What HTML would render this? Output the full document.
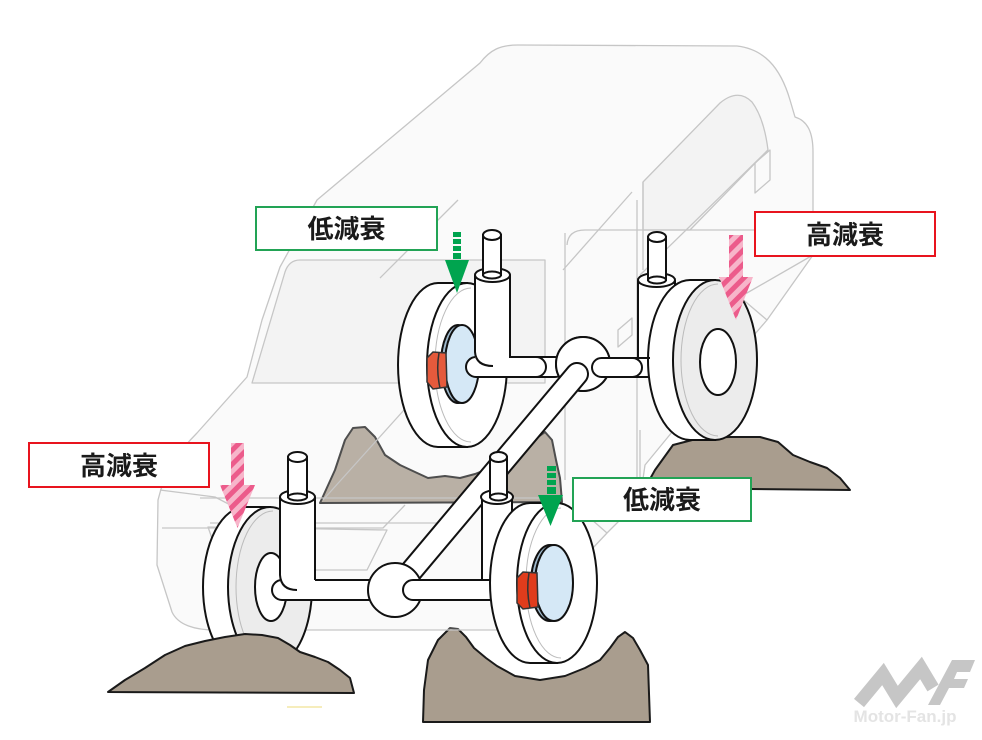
<!DOCTYPE html>
<html><head><meta charset="utf-8"><style>
html,body{margin:0;padding:0;background:#fff;}
svg{display:block;}
.lbl{font-family:"Liberation Sans","Noto Sans CJK JP",sans-serif;font-size:26px;font-weight:700;fill:#1a1a1a;}
</style></head><body>
<svg width="982" height="740" viewBox="0 0 982 740" xmlns="http://www.w3.org/2000/svg">
<defs>
<pattern id="stripe" width="10" height="10" patternUnits="userSpaceOnUse" patternTransform="rotate(45)">
<rect width="10" height="10" fill="#f7b5ca"/>
<rect width="5" height="10" fill="#ec5b8b"/>
</pattern>
</defs>
<rect width="982" height="740" fill="#fff"/>

<!-- mounds behind -->
<g fill="#a99d8e" stroke="#1a1a1a" stroke-width="2" stroke-linejoin="round">
<path d="M320,503 L335,470 L345,440 L353,428 L365,427 L375,437 L385,455 L400,465 L415,472 L428,478 L445,476 L460,478 L475,474 L490,468 L510,456 L528,444 L545,432 L552,440 L556,460 L560,478 L562,502 Z"/>
<path d="M645,488 L655,470 L673,445 L700,438 L730,437 L760,437 L778,442 L793,455 L810,462 L827,468 L840,478 L850,490 Z"/>
<path d="M423,722 L424,690 L428,660 L438,640 L450,628 L458,629 L466,637 L474,648 L486,658 L497,666 L515,676 L540,680 L565,676 L585,668 L600,660 L610,648 L618,637 L625,632 L633,638 L640,650 L648,665 L650,722 Z"/>
</g>

<!-- car body -->
<g stroke="#c6c6c6" stroke-width="1.3" fill="none" stroke-linejoin="round">
<path fill="#ececec" fill-opacity="0.25" d="M480,63 C490,50 500,45 518,45 L737,46 C763,49 780,66 790,100 L795,117 C808,121 813,133 813,152 L813,255 L767,320 L700,398 L645,465 L640,500 L607,533 L530,615 C522,625 515,630 505,630 L215,630 C195,630 178,625 172,612 L157,565 L158,500 C165,470 180,450 197,433 L247,377 L262,320 L280,267 L317,200 Z"/>
<path fill="#e6e6e6" fill-opacity="0.3" d="M300,260 L545,260 L545,383 L252,383 L285,272 Q289,260 300,260 Z"/>
<path fill="#e6e6e6" fill-opacity="0.3" d="M643,182 L720,103 Q738,88 752,102 Q764,118 768,150 L690,230 L643,230 Z"/>
<path d="M567,245 Q568,230 585,230 L757,230"/>
<path d="M565,233 L565,480"/>
<path d="M637,200 L637,480"/>
<path d="M643,182 L643,270"/>
<path d="M632,192 L563,270"/>
<path d="M768,150 L640,275"/>
<path d="M813,255 L740,297 L767,320"/>
<path d="M755,163 L770,150 L770,180 L755,193 Z"/>
<path d="M618,330 L632,318 L632,335 L618,347 Z"/>
<path d="M200,498 L560,498"/>
<path d="M210,523 L440,523"/>
<path d="M208,527 L387,530 L367,570 L223,570 Z"/>
<path d="M413,400 L323,500"/>
<path d="M458,200 L380,278"/>
<path d="M640,430 L640,500 M575,505 L607,533"/>
<path d="M160,490 L215,497 L240,510"/>
<path d="M162,528 L383,528 L405,505"/>
</g>

<!-- top-right: axle, shock, tire -->
<g stroke="#111" stroke-width="2" fill="#fff">
<rect x="455" y="357" width="110" height="20" rx="10" ry="10"/>
<circle cx="583" cy="364" r="27"/>
<rect x="592" y="358" width="70" height="19" rx="9.5"/>
<rect x="638" y="280" width="37" height="79" stroke="none"/>
<path d="M638,280 V358 M675,280 V358" fill="none"/>
<ellipse cx="656.5" cy="280" rx="18.5" ry="7"/>
<rect x="648" y="237" width="18" height="43"/>
<ellipse cx="657" cy="280" rx="9" ry="3.5"/>
<ellipse cx="657" cy="237" rx="9" ry="5"/>
<path d="M715,280 L690,280 A42,80 0 0 0 690,440 L715,440 Z"/>
<ellipse cx="715" cy="360" rx="42" ry="80" fill="#ececec"/>
<path d="M718,284 A37,76 0 0 0 718,436" fill="none" stroke="#bbb" stroke-width="1"/>
<ellipse cx="718" cy="362" rx="18" ry="33"/>
</g>

<!-- top-left: tire, disc, axle, shock -->
<g stroke="#111" stroke-width="2" fill="#fff">
<path d="M467,283 L438,283 A40,82 0 0 0 438,447 L467,447 Z"/>
<ellipse cx="467" cy="365" rx="40" ry="82"/>
<path d="M471,288 A36,77 0 0 0 471,442" fill="none" stroke="#bbb" stroke-width="1"/>
<ellipse cx="458" cy="364" rx="17" ry="39" fill="#9fb9cc"/>
<ellipse cx="462" cy="364" rx="17" ry="39" fill="#d5e8f6"/>
<path d="M427,358 L433,352 L446,353 L447,387 L433,389 L427,382 Z" fill="#e55a3c" stroke="#333" stroke-width="1.5"/>
<path d="M439,353 Q436,370 440,388" fill="none" stroke="#333" stroke-width="1.5"/>
<rect x="466" y="357" width="80" height="20" rx="10"/>
<rect x="475" y="275" width="35" height="83" stroke="none"/>
<path d="M475,275 V352 Q476,366 493,366 M510,275 V358" fill="none"/>
<ellipse cx="492.5" cy="275" rx="17.5" ry="7"/>
<rect x="483" y="235" width="18" height="40"/>
<ellipse cx="492" cy="275" rx="9" ry="3.5"/>
<ellipse cx="492" cy="235" rx="9" ry="5"/>
<circle cx="583" cy="364" r="27"/>
<rect x="592" y="358" width="50" height="19" rx="9.5"/>
<path d="M638,358 L650,358" fill="none"/>
</g>

<!-- diagonal bar -->
<line x1="577" y1="374" x2="398" y2="587" stroke="#111" stroke-width="24" stroke-linecap="round"/>
<line x1="577" y1="374" x2="398" y2="587" stroke="#fff" stroke-width="20" stroke-linecap="round"/>

<!-- bottom group -->
<g stroke="#111" stroke-width="2" fill="#fff">
<!-- bottom-left tire -->
<path d="M270,507 L245,507 A42,80 0 0 0 245,667 L270,667 Z"/>
<ellipse cx="270" cy="587" rx="42" ry="80" fill="#ececec"/>
<path d="M273,511 A37,76 0 0 0 273,663" fill="none" stroke="#bbb" stroke-width="1"/>
<ellipse cx="271" cy="587" rx="16" ry="34"/>
<rect x="272" y="580" width="123" height="20" rx="10"/>
<rect x="280" y="497" width="35" height="84" stroke="none"/>
<path d="M280,497 V575 Q281,590 297,590 M315,497 V580" fill="none"/>
<ellipse cx="297.5" cy="497" rx="17.5" ry="7"/>
<rect x="288" y="457" width="19" height="40"/>
<ellipse cx="297.5" cy="497" rx="9.5" ry="3.5"/>
<ellipse cx="297.5" cy="457" rx="9.5" ry="5"/>
<circle cx="395" cy="590" r="27"/>
<!-- bottom-right shock -->
<rect x="482" y="497" width="30" height="84" stroke="none"/>
<path d="M482,497 V580 M512,497 V580" fill="none"/>
<ellipse cx="497" cy="497" rx="16" ry="7"/>
<rect x="490" y="457" width="17" height="40"/>
<ellipse cx="498.5" cy="497" rx="8.5" ry="3.5"/>
<ellipse cx="498.5" cy="457" rx="8.5" ry="5"/>
<rect x="403" y="580" width="100" height="20" rx="10"/>
<path d="M482,580 L490,580" fill="none"/>
<!-- bottom-right tire -->
<path d="M557,503 L530,503 A40,80 0 0 0 530,663 L557,663 Z"/>
<ellipse cx="557" cy="583" rx="40" ry="80"/>
<path d="M561,508 A35,75 0 0 0 561,658" fill="none" stroke="#bbb" stroke-width="1"/>
<ellipse cx="550" cy="583" rx="19" ry="38" fill="#9fb9cc"/>
<ellipse cx="554" cy="583" rx="19" ry="38" fill="#d5e8f6"/>
<path d="M517,578 L523,572 L537,573 L538,607 L523,609 L517,603 Z" fill="#e03c1c" stroke="#333" stroke-width="1.5"/>
<path d="M529,573 Q526,590 530,608" fill="none" stroke="#333" stroke-width="1.5"/>
</g>

<!-- bottom-left mound (front) -->
<path d="M108,692 L125,680 L145,668 L165,655 L185,646 L205,641 L225,637 L245,634 L262,635 L278,638 L290,645 L300,652 L315,657 L328,662 L340,670 L350,678 L354,693 Z" fill="#a99d8e" stroke="#1a1a1a" stroke-width="2" stroke-linejoin="round"/>
<line x1="287" y1="707" x2="322" y2="707" stroke="#f3e7a6" stroke-width="1.5"/>

<!-- arrows -->
<g fill="#00a44f">
<rect x="453" y="232" width="8" height="5"/>
<rect x="453" y="239" width="8" height="5"/>
<rect x="453" y="246" width="8" height="5"/>
<rect x="453" y="253" width="8" height="6"/>
<polygon points="445,260 469,260 457,293"/>
<rect x="547" y="466" width="9" height="5"/>
<rect x="547" y="473" width="9" height="5"/>
<rect x="547" y="480" width="9" height="5"/>
<rect x="547" y="487" width="9" height="7"/>
<polygon points="538,495 563,495 550.5,526"/>
</g>
<path d="M729,235 H743 V277 H753 L736,320 L719,277 H729 Z" fill="url(#stripe)"/>
<path d="M231,443 H244 V485 H255 L237.5,528 L220,485 H231 Z" fill="url(#stripe)"/>

<!-- labels -->
<rect x="256" y="207" width="181" height="43" fill="#fff" stroke="#22a355" stroke-width="2"/>
<text class="lbl" x="346.5" y="229" text-anchor="middle" dominant-baseline="central">低減衰</text>
<rect x="755" y="212" width="180" height="44" fill="#fff" stroke="#e8141e" stroke-width="2"/>
<text class="lbl" x="845" y="235" text-anchor="middle" dominant-baseline="central">高減衰</text>
<rect x="29" y="443" width="180" height="44" fill="#fff" stroke="#e8141e" stroke-width="2"/>
<text class="lbl" x="119" y="466" text-anchor="middle" dominant-baseline="central">高減衰</text>
<rect x="573" y="478" width="178" height="43" fill="#fff" stroke="#22a355" stroke-width="2"/>
<text class="lbl" x="662" y="500" text-anchor="middle" dominant-baseline="central">低減衰</text>

<!-- logo -->
<polyline points="859,703 883,674 897,697 921,668 933,688" fill="none" stroke="#c6c6c6" stroke-width="13" stroke-linejoin="miter"/>
<polygon points="928,705 952,660 975,660 970,672 957,672 954,679 968,679 964,688 949,688 940,705" fill="#c6c6c6"/>
<text x="905" y="722" text-anchor="middle" font-family="Liberation Sans, sans-serif" font-size="17" font-weight="700" fill="#e4e4e4">Motor-Fan.jp</text>
</svg>
</body></html>
